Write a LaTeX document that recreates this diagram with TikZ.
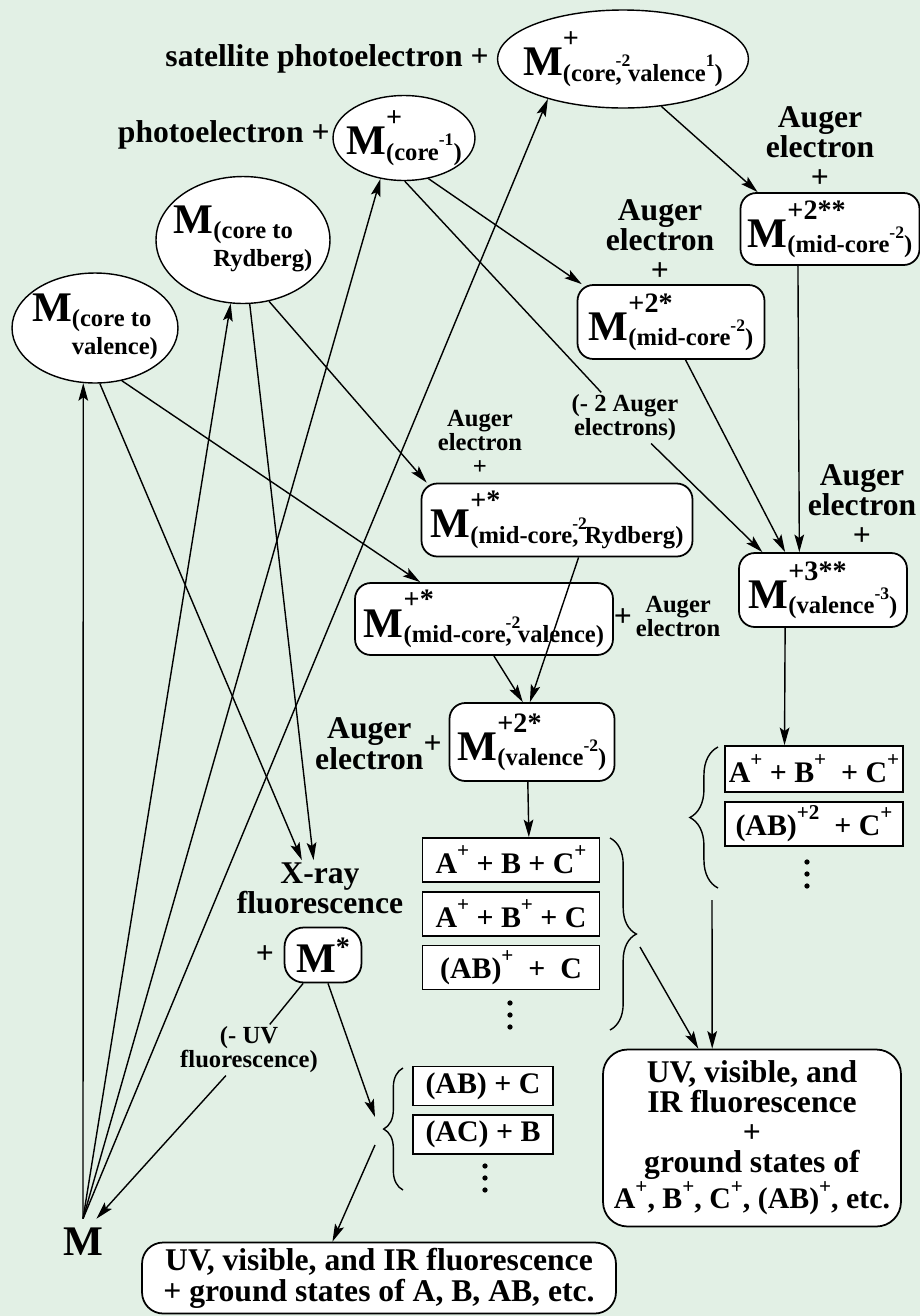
\documentclass[tikz,border=0pt]{standalone}
\usepackage{fontspec}
\setmainfont{Liberation Serif}
\usepackage{tikz}
\usetikzlibrary{positioning,arrows.meta,shapes.geometric,decorations.pathreplacing}
\usepackage{xcolor}
\definecolor{bgmint}{RGB}{226,240,229}

% big M with charge (sup) and state (sub)
\newcommand{\ion}[2]{{\fontsize{24}{24}\selectfont M}\rlap{\raisebox{16pt}{\fontsize{16}{16}\selectfont #1}}\raisebox{-3pt}{\fontsize{14}{16}\selectfont #2}}
\newcommand{\expo}[1]{\raisebox{8pt}{\fontsize{10}{10}\selectfont #1}}
\newcommand{\chg}[1]{\raisebox{9pt}{\fontsize{12}{12}\selectfont #1}}
\newcommand{\twoline}[2]{\begin{tabular}[t]{@{}l@{}}#1\\#2\end{tabular}}

\begin{document}
\begin{tikzpicture}[
  x=0.02cm, y=-0.02cm, line width=0.8pt,
  ell/.style={ellipse,draw,fill=white,inner sep=0pt,font=\bfseries},
  rbox/.style={rectangle,rounded corners=9pt,draw,fill=white,line width=1pt,inner sep=0pt,font=\bfseries},
  sbox/.style={rectangle,draw,fill=white,line width=1pt,inner sep=0pt,minimum width=3.54cm,minimum height=0.88cm,font=\bfseries\fontsize{17}{17}\selectfont},
  lbl/.style={align=center,inner sep=1pt,font=\bfseries\fontsize{18}{17}\selectfont},
  slbl/.style={align=center,inner sep=1pt,font=\bfseries\fontsize{14}{13.6}\selectfont},
  arr/.style={-{Stealth[length=10pt,width=5.5pt,inset=2pt]}}
]
\useasboundingbox (0,0) rectangle (920,1316);
\fill[bgmint] (0,0) rectangle (920,1316);

% Ground state and excited neutrals
\node[font=\bfseries\fontsize{24}{24}\selectfont,inner sep=5pt] (M) at (83,1242) {M};
\node[ell,minimum width=3.32cm,minimum height=2.2cm] (cval) at (95,328)
  {\makebox[0pt]{\ion{}{\twoline{(core to}{valence)}}}};
\node[ell,minimum width=3.48cm,minimum height=2.54cm] (ryd) at (243,240)
  {\makebox[0pt]{\ion{}{\twoline{(core to}{Rydberg)}}}};

% Photoionised states
\node[ell,minimum width=2.84cm,minimum height=1.7cm] (pe) at (404,138)
  {\makebox[0pt]{\ion{+}{(core\expo{-1})}}};
\node[lbl,anchor=base east] (peT) at (332,142) {photoelectron +};
\node[ell,minimum width=5.02cm,minimum height=1.96cm] (sat) at (623,59)
  {\makebox[0pt]{\ion{+}{(core\rlap{\expo{-2}}, valence\expo{1})}}};
\node[lbl,anchor=base east] (satT) at (491,66) {satellite photoelectron +};

% Auger cascade
\node[rbox,minimum width=3.58cm,minimum height=1.44cm] (m2ss) at (830,229) {\ion{+2**}{(mid-core\expo{-2})}};
\node[lbl] (aug1) at (820,147) {Auger\\electron\\+};
\node[rbox,minimum width=3.74cm,minimum height=1.48cm] (m2s) at (671,322) {\ion{+2*}{(mid-core\expo{-2})}};
\node[lbl] (aug2) at (660,240) {Auger\\electron\\+};
\node[rbox,minimum width=3.36cm,minimum height=1.48cm] (m3) at (823,590) {\ion{+3**}{(valence\expo{-3})}};
\node[lbl] (aug3) at (862,505) {Auger\\electron\\+};
\node[slbl] (lab2a) at (625,418) {(- 2 Auger\\electrons)};

\node[rbox,minimum width=5.42cm,minimum height=1.46cm] (mryd) at (557,520) {\ion{+*}{(mid-core\rlap{\expo{-2}}, Rydberg)}};
\node[slbl] (aug4) at (480,442) {Auger\\electron\\+};
\node[rbox,minimum width=5.16cm,minimum height=1.44cm] (mmval) at (484,619) {\ion{+*}{(mid-core\rlap{\expo{-2}}, valence)}};
\node[slbl] (aug5) at (667,620) {{\fontsize{18}{18}\selectfont +}\,\begin{tabular}{@{}c@{}}Auger\\electron\end{tabular}};
\node[rbox,minimum width=3.3cm,minimum height=1.56cm] (m2val) at (532,742) {\ion{+2*}{(valence\expo{-2})}};
\node[lbl,anchor=base east] (aug6) at (444,769) {\begin{tabular}[b]{@{}c@{}}Auger\\electron\end{tabular}\raisebox{9pt}{+}};

% Fragments
\node[sbox] (s1) at (511,860) {A\chg{+} + B + C\chg{+}};
\node[sbox,below=0.16cm of s1] (s2) {A\chg{+} + B\chg{+} + C};
\node[sbox,below=0.16cm of s2] (s3) {(AB)\chg{+} \ + \ C};
\node[sbox,minimum width=3.56cm,minimum height=0.92cm] (r1) at (814,769) {A\chg{+} + B\chg{+} \ + C\chg{+}};
\node[sbox,minimum width=3.56cm,minimum height=0.88cm,below=0.16cm of r1] (r2) {(AB)\chg{+2} \ + C\chg{+}};

% Fluorescence branch
\node[lbl] (xray) at (320,888) {X-ray\\fluorescence};
\node[rbox,rounded corners=11pt,minimum width=1.54cm,minimum height=1.1cm] (mstar) at (323,955)
  {{\fontsize{24}{24}\selectfont M}\raisebox{9pt}{\fontsize{16}{16}\selectfont *}};
\node[lbl] (plusM) at (265,955) {+};
\node[slbl] (labuv) at (249,1050) {(- UV\\fluorescence)};
\node[sbox,minimum width=2.8cm,minimum height=0.78cm] (l1) at (483,1086) {(AB) + C};
\node[sbox,minimum width=2.8cm,minimum height=0.78cm,below=0.16cm of l1] (l2) {(AC) + B};

% Final states
\node[rbox,rounded corners=14pt,minimum width=5.96cm,minimum height=3.54cm,font=\bfseries\fontsize{18}{17}\selectfont,align=center] (uvR) at (752,1138)
  {UV, visible, and\\IR fluorescence\\+\\ground states of\\{\fontsize{17}{17}\selectfont A\chg{+}, B\chg{+}, C\chg{+}, (AB)\chg{+}, etc.}};
\node[rbox,rounded corners=12pt,minimum width=9.48cm,minimum height=1.42cm,font=\bfseries\fontsize{18}{17.6}\selectfont,align=center] (uvL) at (379,1278)
  {UV, visible, and IR fluorescence\\+ ground states of A, B, AB, etc.};

% Braces and dots
\draw[decorate,decoration={brace,amplitude=15pt}] (610,838) -- (610,1030);
\draw[decorate,decoration={brace,amplitude=16pt}] (718,888) -- (718,747);
\draw[decorate,decoration={brace,amplitude=11pt}] (403,1190) -- (403,1068);
\foreach \dx/\dy in {510/1003,807/862,485/1166}{
  \foreach \k in {0,1,2}{ \fill (\dx,\dy+12*\k) circle (1.5pt); }
}
\coordinate (b1out) at (640,947);
\coordinate (b2out) at (712,900);
\coordinate (b3in) at (375,1117);
\coordinate (b3out) at (375,1145);

% M -> excited / ionised states
\draw[arr] (M.north) -- (cval.258);
\draw[arr] (M.north) -- (ryd.259);
\draw[arr] (M.north) -- (pe.240);
\draw[arr] (M.north) -- (sat.208);

% Decay paths
\draw[arr] (cval.275) -- (xray.123);
\draw[arr] (cval.297) -- (mmval.150);
\draw[arr] (ryd.276) -- (xray.103);
\draw[arr] (ryd.293) -- (mryd.164);
\draw[arr] (pe.301) -- (m2s.157);
\draw (pe.271) -- (lab2a);
\draw[arr] (lab2a) -- (m3.148);
\draw[arr] (sat.309) -- (m2ss.153);
\draw[arr] (m2ss.229) -- (m3.122);
\draw[arr] (m2s.291) -- (m3.135);
\draw[arr] (mryd.300) -- (m2val.93);
\draw[arr] (mmval.285) -- (m2val.103);
\draw[arr] (m2val.264) -- (s1.52);
\draw[arr] (m3.225) -- (r1.141);
\draw[arr] (b1out) -- (uvR.121);
\draw[arr] (b2out) -- (uvR.114);
\draw (mstar.235) -- (labuv);
\draw[arr] (labuv) -- (M.60);
\draw[arr] (mstar.280) -- (b3in);
\draw[arr] (b3out) -- (uvL.142);
\end{tikzpicture}
\end{document}
